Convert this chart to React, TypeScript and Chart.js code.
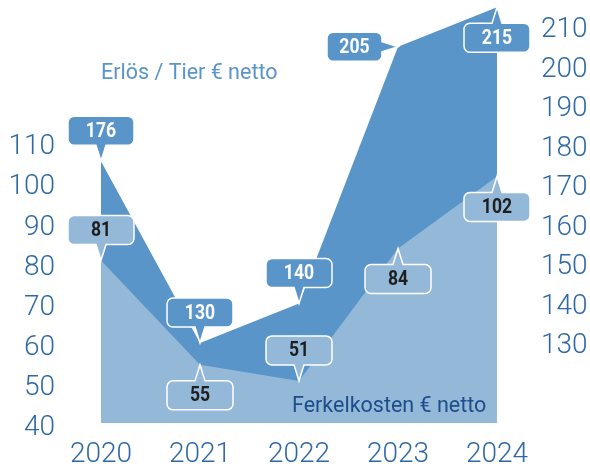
import React, { useEffect, useRef } from "react";
import { Chart, registerables } from "chart.js";

Chart.register(...registerables);

const years = ["2020", "2021", "2022", "2023", "2024"];
const erloes = [176, 130, 140, 205, 215];
const ferkelkosten = [81, 55, 51, 84, 102];
const leftTicks = [40, 50, 60, 70, 80, 90, 100, 110];
const rightTicks = [130, 140, 150, 160, 170, 180, 190, 200, 210];
const erloesLabelSide = ["top", "top", "top", "left", "bottom"];
const ferkelLabelSide = ["top", "bottom", "top", "bottom", "bottom"];
const erloesTitle = "Erlös / Tier € netto";
const ferkelTitle = "Ferkelkosten € netto";

const DARK = "#5a95c9";
const LIGHT = "#94b8d8";
const TICK = "#2f69a5";
const NAVY = "#1d4e89";

function calloutPath(
  ctx: CanvasRenderingContext2D,
  x0: number,
  y0: number,
  w: number,
  h: number,
  r: number,
  side: string,
  tipX: number,
  tipY: number,
  bw: number
) {
  const bx = Math.min(Math.max(tipX, x0 + r + bw / 2), x0 + w - r - bw / 2);
  const by = Math.min(Math.max(tipY, y0 + r + bw / 2), y0 + h - r - bw / 2);
  ctx.beginPath();
  ctx.moveTo(x0 + r, y0);
  if (side === "top") {
    ctx.lineTo(bx - bw / 2, y0);
    ctx.lineTo(tipX, tipY);
    ctx.lineTo(bx + bw / 2, y0);
  }
  ctx.lineTo(x0 + w - r, y0);
  ctx.arcTo(x0 + w, y0, x0 + w, y0 + r, r);
  if (side === "right") {
    ctx.lineTo(x0 + w, by - bw / 2);
    ctx.lineTo(tipX, tipY);
    ctx.lineTo(x0 + w, by + bw / 2);
  }
  ctx.lineTo(x0 + w, y0 + h - r);
  ctx.arcTo(x0 + w, y0 + h, x0 + w - r, y0 + h, r);
  if (side === "bottom") {
    ctx.lineTo(bx + bw / 2, y0 + h);
    ctx.lineTo(tipX, tipY);
    ctx.lineTo(bx - bw / 2, y0 + h);
  }
  ctx.lineTo(x0 + r, y0 + h);
  ctx.arcTo(x0, y0 + h, x0, y0 + h - r, r);
  ctx.lineTo(x0, y0 + r);
  ctx.arcTo(x0, y0, x0 + r, y0, r);
  ctx.closePath();
}

const calloutPlugin = {
  id: "callouts",
  afterDatasetsDraw(chart: any) {
    const ctx: CanvasRenderingContext2D = chart.ctx;
    const H = 29;
    const GAP = 16;
    const configs = [
      { index: 1, sides: erloesLabelSide, values: erloes, fill: DARK, text: "#ffffff" },
      { index: 0, sides: ferkelLabelSide, values: ferkelkosten, fill: LIGHT, text: "#1e1e1e" },
    ];
    configs.forEach((cfg) => {
      const meta = chart.getDatasetMeta(cfg.index);
      meta.data.forEach((pt: any, i: number) => {
        const px = pt.x;
        const py = pt.y;
        const side = cfg.sides[i];
        const W = side === "left" || side === "right" ? 55 : 66;
        let cx = px;
        let cy = py;
        let pSide = "bottom";
        if (side === "top") {
          cy = py - GAP - H / 2;
          pSide = "bottom";
        } else if (side === "bottom") {
          cy = py + GAP + H / 2;
          pSide = "top";
        } else if (side === "left") {
          cx = px - GAP - W / 2;
          pSide = "right";
        } else {
          cx = px + GAP + W / 2;
          pSide = "left";
        }
        ctx.save();
        calloutPath(ctx, cx - W / 2, cy - H / 2, W, H, 6, pSide, px, py, 10);
        ctx.fillStyle = cfg.fill;
        ctx.fill();
        ctx.lineWidth = 1.5;
        ctx.strokeStyle = "#ffffff";
        ctx.stroke();
        ctx.translate(cx, cy + 1);
        ctx.scale(0.88, 1);
        ctx.font = "bold 20px Roboto";
        ctx.textAlign = "center";
        ctx.textBaseline = "middle";
        ctx.fillStyle = cfg.text;
        ctx.fillText(String(cfg.values[i]), 0, 0);
        ctx.restore();
      });
    });
    ctx.save();
    ctx.textAlign = "left";
    ctx.textBaseline = "alphabetic";
    ctx.font = "21.5px Roboto";
    ctx.fillStyle = DARK;
    ctx.fillText(erloesTitle, 101, 79);
    ctx.font = "21.5px Roboto";
    ctx.fillStyle = NAVY;
    ctx.fillText(ferkelTitle, 292, 412);
    ctx.restore();
  },
};

function zeroPadding(s: any) {
  s.paddingTop = 0;
  s.paddingBottom = 0;
  s.paddingLeft = 0;
  s.paddingRight = 0;
}

export default function App() {
  const ref = useRef<HTMLCanvasElement | null>(null);
  useEffect(() => {
    document.body.style.margin = "0";
    if (!ref.current) return;
    const tickFont = { family: "Roboto", size: 28, weight: 300 as any };
    const yTickFont = { family: "Roboto", size: 28, weight: 300 as any, lineHeight: "6px" };
    const shiftDown = (v: any) => ["", String(v)];
    const chart = new Chart(ref.current, {
      type: "line",
      data: {
        labels: years,
        datasets: [
          {
            label: ferkelTitle,
            data: ferkelkosten,
            yAxisID: "y",
            fill: "start",
            backgroundColor: LIGHT,
            borderWidth: 0,
            pointRadius: 0,
            tension: 0,
          },
          {
            label: erloesTitle,
            data: erloes,
            yAxisID: "y1",
            fill: "start",
            backgroundColor: DARK,
            borderWidth: 0,
            pointRadius: 0,
            tension: 0,
          },
        ],
      },
      options: {
        animation: false,
        responsive: false,
        layout: { autoPadding: false, padding: { top: 5, left: 0, right: 0, bottom: 0 } },
        plugins: { legend: { display: false }, tooltip: { enabled: false }, title: { display: false } },
        scales: {
          x: {
            offset: false,
            grid: { display: false, drawTicks: false },
            border: { display: false },
            ticks: { font: tickFont, color: TICK, padding: 15, maxRotation: 0, autoSkip: false },
            afterFit: (s: any) => {
              s.height = 44;
              zeroPadding(s);
            },
          },
          y: {
            position: "left",
            min: 40.5,
            max: 144.74,
            grid: { display: false, drawTicks: false },
            border: { display: false },
            ticks: { font: yTickFont, color: TICK, padding: 46, autoSkip: false, callback: shiftDown },
            afterBuildTicks: (s: any) => {
              s.ticks = leftTicks.map((v) => ({ value: v }));
            },
            afterFit: (s: any) => {
              s.width = 101;
              zeroPadding(s);
            },
          },
          y1: {
            position: "right",
            min: 109.75,
            max: 215.57,
            grid: { display: false, drawTicks: false },
            border: { display: false },
            ticks: { font: yTickFont, color: TICK, padding: 44, autoSkip: false, callback: shiftDown },
            afterBuildTicks: (s: any) => {
              s.ticks = rightTicks.map((v) => ({ value: v }));
            },
            afterFit: (s: any) => {
              s.width = 93;
              zeroPadding(s);
            },
          },
        },
      },
      plugins: [calloutPlugin],
    });
    return () => chart.destroy();
  }, []);
  return (
    <div style={{ width: 590, height: 467 }}>
      <canvas ref={ref} width={590} height={467} />
    </div>
  );
}
